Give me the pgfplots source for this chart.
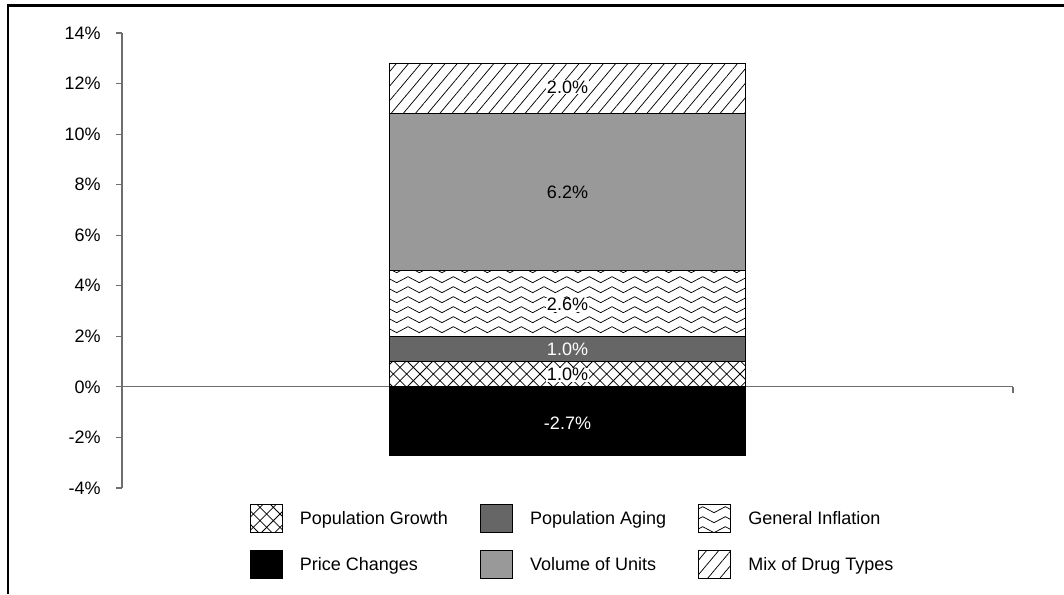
\documentclass[border=0pt]{standalone}
\usepackage{fontspec}
\setmainfont{Liberation Sans}
\usepackage{pgfplots}
\pgfplotsset{compat=1.18}
\usetikzlibrary{patterns,patterns.meta}

\definecolor{aging}{HTML}{666666}
\definecolor{volume}{HTML}{999999}
\definecolor{axisgray}{HTML}{6E6E6E}

% diagonal crosshatch (diamonds)
\pgfdeclarepatternformonly{diamondhatch}{\pgfqpoint{-1pt}{-1pt}}{\pgfqpoint{11pt}{11pt}}{\pgfqpoint{10pt}{10pt}}{%
  \pgfsetlinewidth{0.55pt}%
  \pgfpathmoveto{\pgfqpoint{0pt}{0pt}}\pgfpathlineto{\pgfqpoint{10pt}{10pt}}%
  \pgfpathmoveto{\pgfqpoint{0pt}{10pt}}\pgfpathlineto{\pgfqpoint{10pt}{0pt}}%
  \pgfusepath{stroke}}
% zigzag rows
\pgfdeclarepatternformonly{zigzag}{\pgfqpoint{-1pt}{-1pt}}{\pgfqpoint{18pt}{8.5pt}}{\pgfqpoint{17pt}{7.5pt}}{%
  \pgfsetlinewidth{0.55pt}%
  \pgfpathmoveto{\pgfqpoint{0pt}{5.5pt}}\pgfpathlineto{\pgfqpoint{8.5pt}{1pt}}\pgfpathlineto{\pgfqpoint{17pt}{5.5pt}}%
  \pgfusepath{stroke}}

\newcommand{\lfont}{\fontsize{13.5pt}{16pt}\selectfont}

\begin{document}
\begin{tikzpicture}
\useasboundingbox (0,0) rectangle (798pt,445.5pt);
\draw[line width=1.9pt] (6pt,0) -- (6pt,441.4pt) -- (798pt,441.4pt);

\begin{axis}[
  at={(91.5pt,79.5pt)}, anchor=south west,
  scale only axis, width=668.25pt, height=341.25pt,
  ybar stacked, bar width=267pt,
  xmin=-1, xmax=1, ymin=-4, ymax=14,
  enlargelimits=false,
  axis y line=left, axis x line=middle,
  axis line style={-, axisgray, line width=0.8pt},
  tick style={axisgray, line width=0.8pt},
  major tick length=4.5pt,
  tick align=outside,
  xtick={1}, xticklabels={},
  ytick={-4,-2,...,14},
  yticklabel={\pgfmathprintnumber{\tick}\%},
  /pgf/number format/assume math mode=true,
  yticklabel style={font=\lfont, xshift=-8pt},
  legend image code/.code={\draw[#1] (0pt,-10.5pt) rectangle (24pt,10.5pt);},
  legend columns=3,
  legend cell align=left,
  legend style={at={(0.506,-0.035)}, anchor=north, draw=none, inner sep=0pt,
    font=\lfont, row sep=13pt,
    /tikz/every odd column/.append style={column sep=11pt},
    /tikz/every even column/.append style={column sep=22pt}},
]
\addplot[forget plot, draw=black, line width=0.6pt, fill=white, postaction={pattern=diamondhatch}] coordinates {(0,1.0)};
\addplot[forget plot, draw=black, line width=0.6pt, fill=aging] coordinates {(0,1.0)};
\addplot[forget plot, draw=black, line width=0.6pt, fill=white, postaction={pattern=zigzag}] coordinates {(0,2.6)};
\addplot[forget plot, draw=black, line width=0.6pt, fill=volume] coordinates {(0,6.2)};
\addplot[forget plot, draw=black, line width=0.6pt, fill=white, postaction={pattern={Lines[angle=50,distance=7pt,line width=0.55pt]}}] coordinates {(0,2.0)};

\addlegendimage{draw=black, line width=0.6pt, fill=white, postaction={pattern=diamondhatch}}
\addlegendentry{Population Growth}
\addlegendimage{draw=black, line width=0.6pt, fill=aging}
\addlegendentry{Population Aging}
\addlegendimage{draw=black, line width=0.6pt, fill=white, postaction={pattern=zigzag}}
\addlegendentry{General Inflation}
\addlegendimage{draw=black, line width=0.6pt, fill=black}
\addlegendentry{Price Changes}
\addlegendimage{draw=black, line width=0.6pt, fill=volume}
\addlegendentry{Volume of Units}
\addlegendimage{draw=black, line width=0.6pt, fill=white, postaction={pattern={Lines[angle=50,distance=7pt,line width=0.55pt]}}}
\addlegendentry{Mix of Drug Types}
\end{axis}

\begin{axis}[
  at={(91.5pt,79.5pt)}, anchor=south west,
  scale only axis, width=668.25pt, height=341.25pt,
  xmin=-1, xmax=1, ymin=-4, ymax=14,
  enlargelimits=false, hide axis,
]
\addplot[ybar, bar shift=0pt, bar width=267pt, draw=black, line width=0.6pt, fill=black] coordinates {(0,-2.7)};
% labels on patterned segments (white background)
\addplot[only marks, mark=*, mark size=0pt, mark options={draw=none, fill=none},
  nodes near coords, point meta=explicit symbolic,
  every node near coord/.style={anchor=center, fill=white, inner sep=0.5pt, font=\lfont}]
  coordinates {(0,11.85)[2.0\%] (0,3.25)[2.6\%] (0,0.48)[1.0\%]};
% black label
\addplot[only marks, mark=*, mark size=0pt, mark options={draw=none, fill=none},
  nodes near coords, point meta=explicit symbolic,
  every node near coord/.style={anchor=center, text=black, inner sep=0pt, font=\lfont}]
  coordinates {(0,7.7)[6.2\%]};
% white labels
\addplot[only marks, mark=*, mark size=0pt, mark options={draw=none, fill=none},
  nodes near coords, point meta=explicit symbolic,
  every node near coord/.style={anchor=center, text=white, inner sep=0pt, font=\lfont}]
  coordinates {(0,1.47)[1.0\%] (0,-1.45)[-2.7\%]};
\end{axis}
\end{tikzpicture}
\end{document}
